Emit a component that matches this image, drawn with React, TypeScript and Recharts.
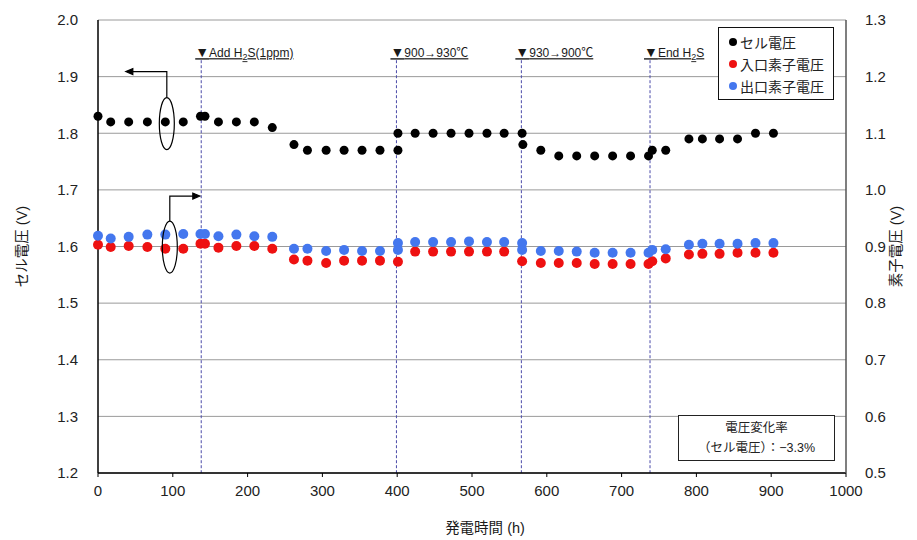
import { ScatterChart, Scatter, XAxis, YAxis, CartesianGrid, ReferenceLine, ReferenceDot, Legend } from 'recharts';

const FONT = '"Liberation Sans", "Noto Sans CJK JP", sans-serif';

const hourTicks = [0, 100, 200, 300, 400, 500, 600, 700, 800, 900, 1000];
const cellTicks = [1.2, 1.3, 1.4, 1.5, 1.6, 1.7, 1.8, 1.9, 2.0];
const elemTicks = [0.5, 0.6, 0.7, 0.8, 0.9, 1.0, 1.1, 1.2, 1.3];

// セル電圧 (left axis)
const cellHours = [0, 17, 41, 66, 90, 114, 137, 143, 161, 185, 209, 233, 262, 280, 305, 329, 353, 377, 401, 401, 424, 448, 472, 496, 520, 543, 567, 568, 592, 616, 640, 664, 688, 712, 736, 741, 759, 790, 808, 831, 855, 879, 903];
const cellVolts = [1.83, 1.82, 1.82, 1.82, 1.82, 1.82, 1.83, 1.83, 1.82, 1.82, 1.82, 1.81, 1.78, 1.77, 1.77, 1.77, 1.77, 1.77, 1.77, 1.80, 1.80, 1.80, 1.80, 1.80, 1.80, 1.80, 1.80, 1.78, 1.77, 1.76, 1.76, 1.76, 1.76, 1.76, 1.76, 1.77, 1.77, 1.79, 1.79, 1.79, 1.79, 1.80, 1.80];

// 入口素子電圧 (right axis)
const inletHours = [0, 17, 41, 66, 90, 114, 137, 143, 161, 185, 209, 233, 262, 280, 305, 329, 353, 377, 401, 424, 448, 472, 496, 520, 543, 567, 592, 616, 640, 664, 688, 712, 736, 741, 759, 790, 808, 831, 855, 879, 903];
const inletVolts = [0.903, 0.899, 0.901, 0.899, 0.896, 0.896, 0.905, 0.905, 0.898, 0.901, 0.901, 0.896, 0.877, 0.875, 0.871, 0.875, 0.875, 0.875, 0.873, 0.891, 0.891, 0.891, 0.891, 0.891, 0.891, 0.874, 0.871, 0.871, 0.871, 0.869, 0.869, 0.869, 0.869, 0.874, 0.879, 0.886, 0.887, 0.887, 0.889, 0.889, 0.889];

// 出口素子電圧 (right axis)
const outletHours = [0, 17, 41, 66, 90, 114, 137, 143, 161, 185, 209, 233, 262, 280, 305, 329, 353, 377, 401, 401, 424, 448, 472, 496, 520, 543, 567, 567, 592, 616, 640, 664, 688, 712, 736, 741, 759, 790, 808, 831, 855, 879, 903];
const outletVolts = [0.919, 0.914, 0.917, 0.921, 0.921, 0.922, 0.922, 0.922, 0.918, 0.921, 0.918, 0.917, 0.896, 0.896, 0.892, 0.894, 0.892, 0.892, 0.906, 0.894, 0.908, 0.908, 0.908, 0.909, 0.908, 0.908, 0.906, 0.894, 0.892, 0.892, 0.891, 0.889, 0.889, 0.889, 0.889, 0.894, 0.895, 0.903, 0.905, 0.905, 0.905, 0.906, 0.906];

// test events: hour + label pieces (middle piece is a subscript)
const eventHours = [138, 399, 566, 738];
const eventLabels = [['Add H', '2', 'S(1ppm)'], ['900→930℃'], ['930→900℃'], ['End H', '2', 'S']];

const cellData = cellHours.map((h, i) => ({ h, v: cellVolts[i] }));
const inletData = inletHours.map((h, i) => ({ h, v: inletVolts[i] }));
const outletData = outletHours.map((h, i) => ({ h, v: outletVolts[i] }));

const dot = (color: string, r: number) => (p: any) => <circle cx={p.cx} cy={p.cy} r={r} fill={color} />;

function EventLabel({ viewBox, parts }: any) {
  const x = viewBox.x - 6;
  const y = viewBox.y - 3;
  return (
    <text x={x} y={y} fontSize={12} fill="#1a1a1a" fontFamily={FONT} textDecoration="underline">
      <tspan fontSize={14}>▼</tspan>
      {parts.length === 1 ? parts[0] : (
        <>
          {parts[0]}
          <tspan fontSize={9} dy={3}>{parts[1]}</tspan>
          <tspan dy={-3}>{parts[2]}</tspan>
        </>
      )}
    </text>
  );
}

// ellipse around the cell voltage points with an arrow pointing to the left axis
function LeftMarker(p: any) {
  const { cx, cy } = p;
  return (
    <g stroke="#000" strokeWidth={1.2} fill="none">
      <ellipse cx={cx} cy={cy} rx={7.5} ry={26} />
      <path d={`M${cx},${cy - 26} V${cy - 52} H${cx - 36}`} />
      <polygon points={`${cx - 41},${cy - 52} ${cx - 34},${cy - 55} ${cx - 34},${cy - 49}`} fill="#000" />
    </g>
  );
}

// ellipse around the element voltage points with an arrow pointing to the right axis
function RightMarker(p: any) {
  const { cx, cy } = p;
  return (
    <g stroke="#000" strokeWidth={1.2} fill="none">
      <ellipse cx={cx} cy={cy} rx={7.5} ry={26} />
      <path d={`M${cx},${cy - 26} V${cy - 51} H${cx + 25}`} />
      <polygon points={`${cx + 30},${cy - 51} ${cx + 23},${cy - 54} ${cx + 23},${cy - 48}`} fill="#000" />
    </g>
  );
}

function LegendBox({ payload }: any) {
  return (
    <div style={{ border: '1.5px solid #111', background: '#fff', padding: '3px 4px', boxSizing: 'border-box', height: 73 }}>
      {(payload ?? []).map((item: any) => (
        <div key={item.value} style={{ display: 'flex', alignItems: 'center', height: 22, fontSize: 14, color: '#222', fontFamily: FONT }}>
          <span style={{ width: 8, height: 8, borderRadius: '50%', background: item.color, marginRight: 3, marginLeft: 6 }} />
          {item.value}
        </div>
      ))}
    </div>
  );
}

const axisTitle = (text: string, dx: number) => ({ viewBox }: any) => {
  const x = viewBox.x + dx;
  const y = viewBox.y + viewBox.height / 2;
  return (
    <text x={x} y={y} transform={`rotate(-90 ${x} ${y})`} textAnchor="middle" dominantBaseline="central" fontSize={14.5} fill="#1a1a1a" fontFamily={FONT}>
      {text}
    </text>
  );
};

export default function App() {
  const tick = { fontSize: 15, fill: '#222', fontFamily: FONT };
  return (
    <div style={{ position: 'relative', width: 917, height: 540, background: '#fff', fontFamily: FONT }}>
      <style>{'body{margin:0}'}</style>
      <ScatterChart width={917} height={540} margin={{ top: 20, right: 0, bottom: 0, left: 0 }}>
        <CartesianGrid vertical={false} stroke="#9a9a9a" yAxisId="cell" />
        <XAxis
          dataKey="h"
          type="number"
          domain={[0, 1000]}
          ticks={hourTicks}
          height={67}
          tick={tick}
          tickSize={4}
          tickMargin={8}
          axisLine={{ stroke: '#000', strokeWidth: 1.5 }}
          tickLine={{ stroke: '#000' }}
          label={({ viewBox }: any) => (
            <text x={485} y={viewBox.y + 60} textAnchor="middle" fontSize={14.5} fill="#1a1a1a" fontFamily={FONT}>発電時間 (h)</text>
          )}
        />
        <YAxis
          yAxisId="cell"
          dataKey="v"
          type="number"
          domain={[1.2, 2.0]}
          ticks={cellTicks}
          width={98}
          tick={tick}
          tickFormatter={(v: number) => v.toFixed(1)}
          tickSize={0}
          tickMargin={20}
          axisLine={{ stroke: '#000', strokeWidth: 1.5 }}
          tickLine={false}
          label={axisTitle('セル電圧 (V)', 22)}
        />
        <YAxis
          yAxisId="elem"
          orientation="right"
          dataKey="v"
          type="number"
          domain={[0.5, 1.3]}
          ticks={elemTicks}
          width={71}
          tick={tick}
          tickFormatter={(v: number) => v.toFixed(1)}
          tickSize={0}
          tickMargin={19}
          axisLine={{ stroke: '#555', strokeWidth: 1.5 }}
          tickLine={false}
          label={axisTitle('素子電圧 (V)', 50)}
        />
        {eventHours.map((h, i) => (
          <ReferenceLine
            key={h}
            yAxisId="cell"
            segment={[{ x: h, y: 1.929 }, { x: h, y: 1.2 }]}
            stroke="#4a4aa8"
            strokeDasharray="3 2"
            label={{ content: (props: any) => <EventLabel {...props} parts={eventLabels[i]} /> }}
          />
        ))}
        <Scatter name="セル電圧" data={cellData} yAxisId="cell" fill="#000" shape={dot('#000', 4.5)} isAnimationActive={false} />
        <Scatter name="入口素子電圧" data={inletData} yAxisId="elem" fill="#ee1111" shape={dot('#ee1111', 5)} isAnimationActive={false} />
        <Scatter name="出口素子電圧" data={outletData} yAxisId="elem" fill="#4477ee" shape={dot('#4477ee', 5)} isAnimationActive={false} />
        <ReferenceDot yAxisId="cell" x={92} y={1.817} shape={LeftMarker} />
        <ReferenceDot yAxisId="cell" x={96} y={1.599} shape={RightMarker} />
        <Legend
          layout="horizontal"
          verticalAlign="middle"
          align="center"
          content={LegendBox}
          wrapperStyle={{ position: 'absolute', left: 718, top: 27, width: 116, height: 73 }}
        />
      </ScatterChart>
      <div
        style={{
          position: 'absolute', left: 678, top: 415, width: 157, height: 46, boxSizing: 'border-box',
          border: '1.5px solid #222', background: '#fff', textAlign: 'center', fontSize: 12.5, color: '#222', lineHeight: '20px', paddingTop: 2,
        }}
      >
        <div>電圧変化率</div>
        <div>（セル電圧）：−3.3%</div>
      </div>
    </div>
  );
}
